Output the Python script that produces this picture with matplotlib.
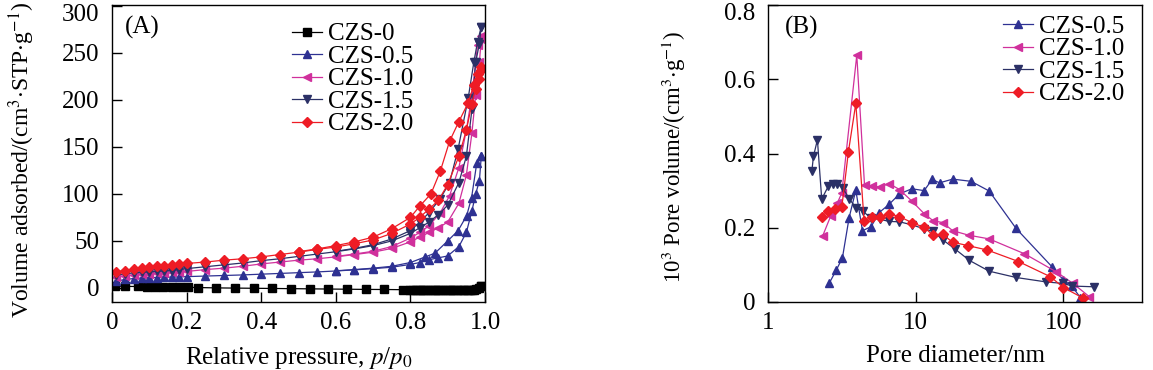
import numpy as np
import matplotlib
matplotlib.use('Agg')
import matplotlib.pyplot as plt
from matplotlib.transforms import ScaledTranslation

plt.rcParams['font.family'] = ['Liberation Serif', 'DejaVu Serif']
plt.rcParams['mathtext.fontset'] = 'stix'
plt.rcParams['font.size'] = 18

#%% Data (A) - N2 isotherms
p_ads = [0.01, 0.035, 0.06, 0.08, 0.10, 0.12, 0.14, 0.16, 0.18, 0.20, 0.25, 0.30, 0.35,
         0.40, 0.45, 0.50, 0.55, 0.60, 0.65, 0.70, 0.75, 0.80, 0.825, 0.85, 0.875, 0.90,
         0.93, 0.95, 0.965, 0.975, 0.985, 0.99]

p0_ads = [0.008, 0.035, 0.07, 0.093, 0.115, 0.138, 0.16, 0.182, 0.205, 0.23, 0.28, 0.33,
          0.38, 0.43, 0.48, 0.53, 0.58, 0.63, 0.68, 0.73, 0.78, 0.80, 0.82, 0.84, 0.86,
          0.88, 0.90, 0.92, 0.94, 0.96, 0.97, 0.985, 0.99]
v0_ads = [2.0, 1.6, 1.5, 1.3, 1.2, 1.0, 0.9, 0.8, 0.6, 0.4, 0.0, -0.2, -0.4, -0.6, -0.8,
          -1.0, -1.2, -1.4, -1.6, -1.7, -1.9, -2.0, -2.0, -2.1, -2.1, -2.1, -2.0, -2.0,
          -2.0, -1.9, -1.8, -0.5, 1.5]
p0_des = [0.99, 0.975, 0.965, 0.955, 0.945, 0.935, 0.925, 0.915, 0.905, 0.895, 0.885,
          0.875, 0.865, 0.855, 0.845, 0.835, 0.825, 0.815, 0.805]
v0_des = [1.5, -1.6, -1.8, -1.9, -1.9, -2.0, -2.0, -2.0, -2.1, -2.1, -2.1, -2.1, -2.1,
          -2.1, -2.1, -2.0, -2.0, -2.0, -2.0]

v05_ads = [7, 9, 10, 10.5, 10.8, 11, 11.2, 11.5, 11.7, 12, 12.6, 13.2, 13.8, 14.6, 15.4,
           16.2, 17, 18, 19.2, 20.5, 22, 25, 27, 30, 32, 34, 44, 59, 82, 100, 114, 140]
p05_des = [0.99, 0.978, 0.964, 0.951, 0.928, 0.90, 0.866, 0.84, 0.80, 0.75, 0.70, 0.65, 0.60]
v05_des = [140, 133, 96, 77, 61, 50, 37, 33, 27, 23, 21, 19.5, 18.2]

v10_ads = [12, 13, 14, 14.5, 15, 15.5, 16, 16.5, 17, 17.5, 19.5, 21, 23, 25.5, 27.5, 29.5,
           31, 33, 35.5, 38, 42, 49, 54, 59, 64, 70, 90, 120, 165, 205, 240, 265]
p10_des = [0.99, 0.98, 0.965, 0.95, 0.93, 0.905, 0.88, 0.85, 0.825, 0.80, 0.75, 0.70, 0.65, 0.60]
v10_des = [268, 258, 205, 168, 128, 98, 80, 66, 59, 53, 44, 39, 36, 33.5]

v15_ads = [13.5, 15, 16, 16.5, 17, 17.5, 18, 18.5, 19.5, 20.5, 22.5, 24.5, 26.5, 29, 31,
           33.5, 36, 38.5, 41.5, 45, 50, 58, 64, 70, 78, 88, 112, 140, 190, 240, 260, 278]
p15_des = [0.99, 0.98, 0.97, 0.955, 0.928, 0.905, 0.88, 0.85, 0.825, 0.80, 0.75, 0.70, 0.65, 0.60]
v15_des = [278, 262, 240, 202, 148, 112, 95, 80, 70, 61, 52, 46, 42, 39]

v20_ads = [17, 18.5, 20, 21, 22, 23, 23.5, 24, 25, 26, 27.5, 29.5, 31, 33, 35.5, 38, 41,
           43.5, 47, 51, 58, 68, 75, 84, 93, 110, 140, 168, 196, 212, 222, 232]
p20_des = [0.99, 0.98, 0.97, 0.955, 0.93, 0.905, 0.88, 0.855, 0.825, 0.80, 0.75, 0.70,
           0.65, 0.60, 0.55, 0.50]
v20_des = [235, 228, 216, 197, 177, 156, 124, 100, 87, 75, 63, 54, 49, 45, 41.5, 38.5]

#%% Data (B) - pore size distribution
d05 = [2.6, 2.89, 3.19, 3.54, 3.93, 4.36, 4.99, 5.66, 6.6, 7.76, 9.4, 11.4, 12.9, 14.5,
       17.8, 23.7, 31.4, 47.8, 84, 100, 114, 130]
pv05 = [0.051, 0.085, 0.119, 0.227, 0.301, 0.192, 0.203, 0.241, 0.263, 0.291, 0.305, 0.300,
        0.330, 0.321, 0.331, 0.325, 0.299, 0.198, 0.094, 0.059, 0.043, 0.012]

d10 = [2.35, 2.66, 2.95, 3.16, 3.99, 4.5, 5.04, 5.74, 6.6, 7.76, 9.4, 11.4, 13.1, 15.2,
       17.8, 22.8, 31.4, 54.4, 89.6, 116, 150]
pv10 = [0.179, 0.232, 0.267, 0.294, 0.665, 0.315, 0.312, 0.310, 0.319, 0.303, 0.272, 0.238,
        0.219, 0.214, 0.192, 0.180, 0.170, 0.130, 0.081, 0.050, 0.014]

d15 = [1.98, 2.03, 2.16, 2.31, 2.56, 2.77, 2.95, 3.21, 3.56, 3.94, 4.38, 5.0, 5.7, 6.6,
       7.76, 9.4, 11.4, 13.1, 15.3, 18.4, 23.1, 31.4, 47.8, 76.5, 100, 114, 160]
pv15 = [0.352, 0.392, 0.437, 0.277, 0.312, 0.318, 0.318, 0.307, 0.277, 0.254, 0.245, 0.225,
        0.223, 0.217, 0.216, 0.208, 0.197, 0.190, 0.167, 0.143, 0.112, 0.083, 0.066, 0.054,
        0.050, 0.043, 0.041]

d20 = [2.31, 2.56, 2.84, 3.16, 3.5, 3.93, 4.47, 5.04, 5.74, 6.6, 7.76, 9.4, 11.4, 13.1,
       15.2, 17.8, 22.5, 30.5, 49.6, 81.6, 100, 135]
pv20 = [0.23, 0.245, 0.25, 0.256, 0.404, 0.535, 0.219, 0.228, 0.229, 0.238, 0.23, 0.214,
        0.201, 0.18, 0.182, 0.161, 0.152, 0.14, 0.109, 0.068, 0.039, 0.011]

c0 = 'black'
c05 = '#2E3192'
c10 = '#D0309C'
c15 = '#2B3066'
c20 = '#EE1C25'

fig = plt.figure(figsize=(11.53, 3.70), dpi=100)
ax1 = fig.add_axes([112/1153, 68/370, 373/1153, 297/370])
ax2 = fig.add_axes([768/1153, 68/370, 374/1153, 297/370])

lw = 0.9
ms = 6

#%% (A)
ax1.plot(p0_ads, v0_ads, '-s', color=c0, lw=lw, ms=5.5, label='CZS-0')
ax1.plot(p0_des, v0_des, '-s', color=c0, lw=lw, ms=5.5)
ax1.plot(p_ads, v05_ads, '-^', color=c05, lw=lw, ms=ms, label='CZS-0.5')
ax1.plot(p05_des, v05_des, '-^', color=c05, lw=lw, ms=ms)
ax1.plot(p_ads, v10_ads, '-<', color=c10, lw=lw, ms=ms, label='CZS-1.0')
ax1.plot(p10_des, v10_des, '-<', color=c10, lw=lw, ms=ms)
ax1.plot(p_ads, v15_ads, '-v', color=c15, lw=lw, ms=ms, label='CZS-1.5')
ax1.plot(p15_des, v15_des, '-v', color=c15, lw=lw, ms=ms)
ax1.plot(p_ads, v20_ads, '-D', color=c20, lw=lw, ms=5.5, label='CZS-2.0')
ax1.plot(p20_des, v20_des, '-D', color=c20, lw=lw, ms=5.5)

ax1.set_xlim(0, 1.0)
ax1.set_ylim(-15, 301)
ax1.set_xticks([0, 0.2, 0.4, 0.6, 0.8, 1.0])
ax1.set_xticklabels(['0', '0.2', '0.4', '0.6', '0.8', '1.0'])
ax1.set_yticks([0, 50, 100, 150, 200, 250, 300])
ax1.set_xlabel(r'Relative pressure, $p$/$p_0$')
ax1.set_ylabel(r'Volume adsorbed/(cm$^3$$\cdot$STP$\cdot$g$^{-1}$)', fontsize=17)
ax1.xaxis.set_label_coords(0.5, -0.145)
ax1.yaxis.set_label_coords(-0.2, 0.48)
ax1.text(0.035, 0.925, '(A)', transform=ax1.transAxes, va='center', ha='left')
ax1.legend(loc='upper left', bbox_to_anchor=(0.483, 0.94), frameon=False,
           handlelength=1.2, handletextpad=0.25, labelspacing=0.0, borderpad=0,
           borderaxespad=0)

#%% (B)
ax2.plot(d05, pv05, '-^', color=c05, lw=lw, ms=ms, label='CZS-0.5')
ax2.plot(d10, pv10, '-<', color=c10, lw=lw, ms=ms, label='CZS-1.0')
ax2.plot(d15, pv15, '-v', color=c15, lw=lw, ms=ms, label='CZS-1.5')
ax2.plot(d20, pv20, '-D', color=c20, lw=lw, ms=5.5, label='CZS-2.0')

ax2.set_xscale('log')
ax2.set_xlim(1, 340)
ax2.set_ylim(0, 0.8)
ax2.set_xticks([1, 10, 100])
ax2.set_xticklabels(['1', '10', '100'])
ax2.xaxis.set_minor_locator(matplotlib.ticker.NullLocator())
ax2.set_yticks([0, 0.2, 0.4, 0.6, 0.8])
ax2.set_yticklabels(['0', '0.2', '0.4', '0.6', '0.8'])
ax2.set_xlabel('Pore diameter/nm')
ax2.set_ylabel(r'10$^3$ Pore volume/(cm$^3$$\cdot$g$^{-1}$)', fontsize=16.5)
ax2.xaxis.set_label_coords(0.5, -0.145)
ax2.yaxis.set_label_coords(-0.215, 0.49)
ax2.text(0.045, 0.925, '(B)', transform=ax2.transAxes, va='center', ha='left')
ax2.legend(loc='upper left', bbox_to_anchor=(0.629, 0.965), frameon=False,
           handlelength=1.2, handletextpad=0.25, labelspacing=0.0, borderpad=0,
           borderaxespad=0)

for ax in (ax1, ax2):
    ax.tick_params(direction='in', length=7, width=1.0)
    ax.tick_params(axis='x', pad=7)
    ax.tick_params(axis='y', pad=9)
    for s in ax.spines.values():
        s.set_linewidth(1.0)

# top y tick labels sit a little lower so they stay inside the picture
fig.canvas.draw()
for ax in (ax1, ax2):
    top = ax.get_yticklabels()[-1]
    top.set_transform(top.get_transform() + ScaledTranslation(0, -0.07, fig.dpi_scale_trans))

fig.savefig('out.png', dpi=100)
